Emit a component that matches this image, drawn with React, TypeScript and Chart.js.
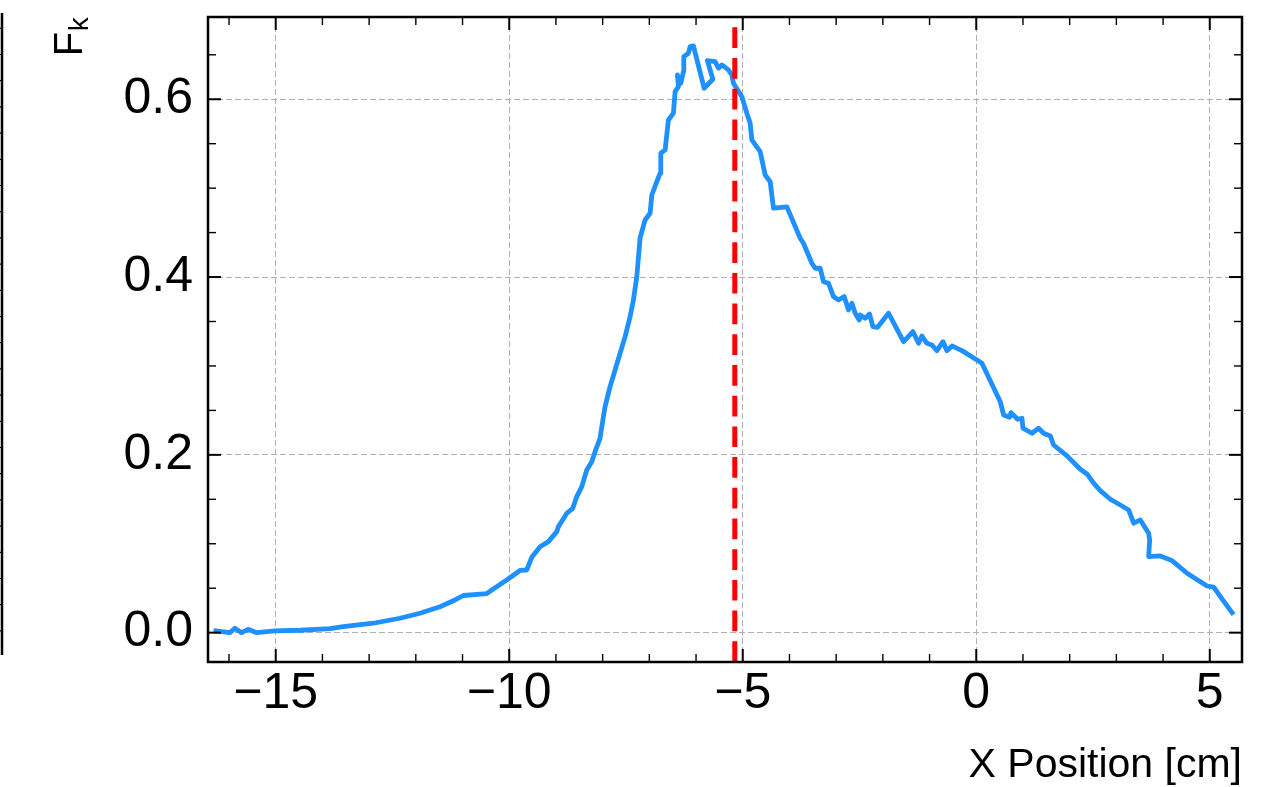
import React, { useEffect, useRef } from "react";
import { Chart, registerables } from "chart.js";

Chart.register(...registerables);

// Beam profile: position along x [cm] and measured F_k
const xPositions = [
  -16.281, -15.981, -15.874, -15.73, -15.589, -15.409, -15.017, -14.482, -13.839, -13.554,
  -12.911, -12.339, -11.911, -11.482, -11.161, -10.983, -10.482, -10.375, -10.054, -9.769,
  -9.625, -9.518, -9.34, -9.162, -8.983, -8.948, -8.768, -8.64, -8.554, -8.447,
  -8.34, -8.233, -8.162, -8.055, -7.984, -7.948, -7.841, -7.734, -7.626, -7.519,
  -7.412, -7.341, -7.269, -7.198, -7.091, -6.984, -6.947, -6.84, -6.769, -6.755,
  -6.662, -6.592, -6.485, -6.448, -6.377, -6.399, -6.326, -6.27, -6.262, -6.163,
  -6.127, -6.056, -5.827, -5.641, -5.756, -5.591, -5.521, -5.448, -5.306, -5.234,
  -5.199, -5.019, -4.912, -4.841, -4.805, -4.627, -4.52, -4.413, -4.342, -4.055,
  -3.77, -3.7, -3.52, -3.449, -3.342, -3.271, -3.164, -3.057, -2.95, -2.828,
  -2.736, -2.663, -2.592, -2.506, -2.485, -2.378, -2.286, -2.213, -2.114, -1.879,
  -1.557, -1.356, -1.236, -1.163, -1.056, -0.949, -0.842, -0.713, -0.628, -0.521,
  -0.306, 0.015, 0.122, 0.514, 0.585, 0.713, 0.743, 0.885, 0.979, 1.0,
  1.193, 1.335, 1.442, 1.585, 1.656, 1.943, 2.228, 2.371, 2.513, 2.656,
  2.871, 3.085, 3.263, 3.37, 3.513, 3.691, 3.713, 3.691, 3.942, 4.192,
  4.514, 4.942, 5.084, 5.227, 5.478,
];

const fkValues = [
  0.0019, 0.0, 0.0049, 0.0, 0.0038, 0.0, 0.0019, 0.0027, 0.0045, 0.0067,
  0.0106, 0.0162, 0.0218, 0.0292, 0.0368, 0.0418, 0.0439, 0.048, 0.0593, 0.07,
  0.0705, 0.0848, 0.0967, 0.1024, 0.1136, 0.1192, 0.1343, 0.1399, 0.153, 0.1642,
  0.183, 0.1923, 0.2036, 0.2187, 0.243, 0.2542, 0.2767, 0.2955, 0.3143, 0.333,
  0.3555, 0.3742, 0.4004, 0.444, 0.4642, 0.4718, 0.4923, 0.5073, 0.5168, 0.5393,
  0.543, 0.5767, 0.5843, 0.6085, 0.6142, 0.6273, 0.618, 0.6311, 0.6479, 0.6517,
  0.6592, 0.66, 0.6124, 0.6225, 0.6434, 0.6423, 0.6349, 0.6386, 0.633, 0.6273,
  0.618, 0.6029, 0.5843, 0.573, 0.5542, 0.5411, 0.5148, 0.5073, 0.4774, 0.4789,
  0.4436, 0.438, 0.4155, 0.4099, 0.4099, 0.3948, 0.393, 0.378, 0.3742, 0.378,
  0.363, 0.3705, 0.3593, 0.3517, 0.3574, 0.3537, 0.3585, 0.3442, 0.3435, 0.3593,
  0.3273, 0.3386, 0.3255, 0.3337, 0.3255, 0.3236, 0.3172, 0.3273, 0.3172, 0.3225,
  0.3172, 0.3067, 0.303, 0.2598, 0.2449, 0.2423, 0.2475, 0.24, 0.2412, 0.2299,
  0.2243, 0.2299, 0.2243, 0.2213, 0.2111, 0.1988, 0.1838, 0.1785, 0.1681, 0.1597,
  0.1501, 0.1436, 0.138, 0.1231, 0.1268, 0.1118, 0.1043, 0.0855, 0.0863, 0.081,
  0.0668, 0.0525, 0.0511, 0.0405, 0.0225,
];

// Reference position marked by the dashed vertical line
const markerX = -5.17;

const xTickValues = [-15, -10, -5, 0, 5];
const yTickValues = [0, 0.2, 0.4, 0.6];

const X_MIN = -16.45;
const X_MAX = 5.69;
const Y_MIN = -0.033;
const Y_MAX = 0.6925;

const FONT = '"Liberation Sans", Arial, Helvetica, sans-serif';

// Closed frame with inward major/minor ticks on all four sides
const frameAndTicks = {
  id: "frameAndTicks",
  afterDatasetsDraw(chart: any) {
    const { ctx, chartArea: a, scales } = chart;
    const xs = scales.x;
    const ys = scales.y;
    ctx.save();
    ctx.strokeStyle = "#000";
    ctx.lineCap = "butt";
    const seg = (x1: number, y1: number, x2: number, y2: number, w: number) => {
      ctx.lineWidth = w;
      ctx.beginPath();
      ctx.moveTo(x1, y1);
      ctx.lineTo(x2, y2);
      ctx.stroke();
    };
    for (let v = Math.ceil(X_MIN); v <= X_MAX; v++) {
      const major = xTickValues.includes(v);
      const len = major ? 13 : 8;
      const w = major ? 2 : 1.4;
      const px = xs.getPixelForValue(v);
      seg(px, a.bottom, px, a.bottom - len, w);
      seg(px, a.top, px, a.top + len, w);
    }
    for (let i = Math.ceil(Y_MIN * 20); i / 20 <= Y_MAX; i++) {
      const v = i / 20;
      const major = yTickValues.some((t) => Math.abs(t - v) < 1e-9);
      const len = major ? 13 : 8;
      const w = major ? 2 : 1.4;
      const py = ys.getPixelForValue(v);
      seg(a.left, py, a.left + len, py, w);
      seg(a.right, py, a.right - len, py, w);
    }
    ctx.lineWidth = 2.5;
    ctx.strokeRect(a.left, a.top, a.right - a.left, a.bottom - a.top);
    ctx.restore();
  },
  afterDraw(chart: any) {
    const { ctx } = chart;
    ctx.save();
    // right spine of the neighbouring panel at the left edge
    ctx.strokeStyle = "#000";
    ctx.lineWidth = 2.5;
    ctx.beginPath();
    ctx.moveTo(2, 13);
    ctx.lineTo(2, 655);
    ctx.stroke();
    ctx.lineWidth = 1.2;
    for (let y = 28.3; y < 655; y += 26.2) {
      ctx.beginPath();
      ctx.moveTo(0, y);
      ctx.lineTo(1, y);
      ctx.stroke();
    }
    // y-axis title F_k, rotated, aligned with the top of the axis
    ctx.fillStyle = "#000";
    ctx.translate(81.7, 56.3);
    ctx.rotate(-Math.PI / 2);
    ctx.textAlign = "left";
    ctx.textBaseline = "alphabetic";
    ctx.font = `40px ${FONT}`;
    ctx.fillText("F", 0, 0);
    const fw = ctx.measureText("F").width;
    ctx.font = `28px ${FONT}`;
    ctx.fillText("k", fw + 0.5, 6.6);
    ctx.restore();
  },
};

export default function App() {
  const canvasRef = useRef<HTMLCanvasElement | null>(null);

  useEffect(() => {
    const canvas = canvasRef.current;
    if (!canvas) return;
    const chart = new Chart(canvas, {
      type: "line",
      data: {
        datasets: [
          {
            label: "marker",
            data: [
              { x: markerX, y: Y_MIN },
              { x: markerX, y: Y_MAX },
            ],
            borderColor: "#ff0000",
            borderWidth: 5,
            borderDash: [20.7, 10],
            pointRadius: 0,
            order: 0,
          },
          {
            label: "F_k",
            data: xPositions.map((x, i) => ({ x, y: fkValues[i] })),
            borderColor: "#1e90ff",
            borderWidth: 4.8,
            borderJoinStyle: "round",
            borderCapStyle: "square",
            pointRadius: 0,
            tension: 0,
            order: 1,
          },
        ],
      },
      options: {
        responsive: false,
        animation: false,
        layout: { padding: { left: 0, right: 34, top: 17, bottom: 0 } },
        plugins: {
          legend: { display: false },
          tooltip: { enabled: false },
        },
        scales: {
          x: {
            type: "linear",
            min: X_MIN,
            max: X_MAX,
            afterBuildTicks: (s: any) => {
              s.ticks = xTickValues.map((v) => ({ value: v }));
            },
            afterFit: (s: any) => {
              s.height = 125;
              s.paddingLeft = 0;
              s.paddingRight = 0;
            },
            grid: { color: "#b0b0b0", lineWidth: 1, drawTicks: false },
            border: { display: false, dash: [6, 3] },
            ticks: {
              padding: 2,
              color: "#000",
              autoSkip: false,
              maxRotation: 0,
              font: { family: FONT, size: 50 },
              callback: (v: any) => String(v).replace("-", "\u2212"),
            },
            title: {
              display: true,
              text: "X Position [cm]",
              align: "end",
              color: "#000",
              font: { family: FONT, size: 41, lineHeight: 1 },
              padding: { top: 0, bottom: 1 },
            },
          },
          y: {
            type: "linear",
            min: Y_MIN,
            max: Y_MAX,
            afterBuildTicks: (s: any) => {
              s.ticks = yTickValues.map((v) => ({ value: v }));
            },
            afterFit: (s: any) => {
              s.width = 208;
              s.paddingTop = 0;
              s.paddingBottom = 0;
            },
            grid: { color: "#b0b0b0", lineWidth: 1, drawTicks: false },
            border: { display: false, dash: [6, 3] },
            ticks: {
              padding: 15,
              color: "#000",
              autoSkip: false,
              font: { family: FONT, size: 50 },
              callback: (v: any) => Number(v).toFixed(1),
            },
          },
        },
      },
      plugins: [frameAndTicks],
    } as any);
    return () => chart.destroy();
  }, []);

  return (
    <div
      style={{
        position: "fixed",
        left: 0,
        top: 0,
        width: 1276,
        height: 787,
        background: "#fff",
      }}
    >
      <canvas ref={canvasRef} width={1276} height={787} style={{ display: "block" }} />
    </div>
  );
}
